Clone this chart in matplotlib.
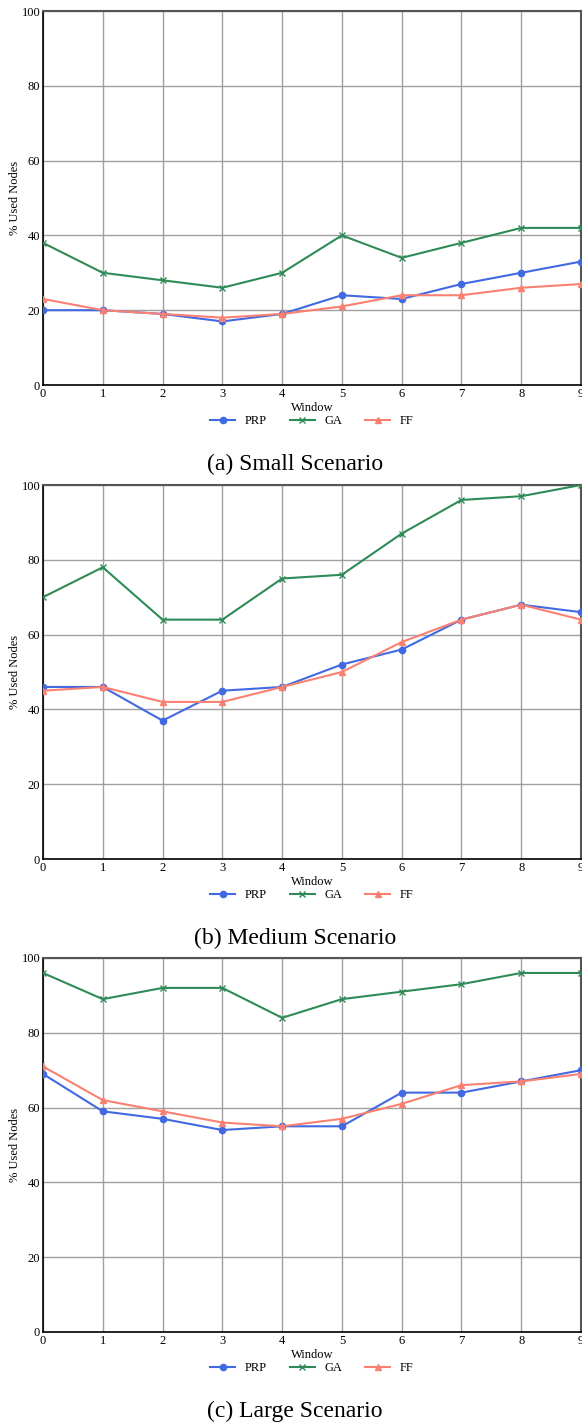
import matplotlib
matplotlib.use('Agg')
import matplotlib.pyplot as plt
import numpy as np

plt.rcParams['font.family'] = ['Liberation Serif', 'DejaVu Serif']

windows = np.arange(10)

# % of used nodes per window, one list per algorithm and scenario
small_prp = [20, 20, 19, 17, 19, 24, 23, 27, 30, 33]
small_ga = [38, 30, 28, 26, 30, 40, 34, 38, 42, 42]
small_ff = [23, 20, 19, 18, 19, 21, 24, 24, 26, 27]

medium_prp = [46, 46, 37, 45, 46, 52, 56, 64, 68, 66]
medium_ga = [70, 78, 64, 64, 75, 76, 87, 96, 97, 100]
medium_ff = [45, 46, 42, 42, 46, 50, 58, 64, 68, 64]

large_prp = [69, 59, 57, 54, 55, 55, 64, 64, 67, 70]
large_ga = [96, 89, 92, 92, 84, 89, 91, 93, 96, 96]
large_ff = [71, 62, 59, 56, 55, 57, 61, 66, 67, 69]

captions = ['(a) Small Scenario', '(b) Medium Scenario', '(c) Large Scenario']
panels = [
    (small_prp, small_ga, small_ff),
    (medium_prp, medium_ga, medium_ff),
    (large_prp, large_ga, large_ff),
]

W, H = 582, 1423
fig = plt.figure(figsize=(W / 100, H / 100), dpi=100)

ax_left, ax_right = 43, 581
ax_tops = [11, 485, 958]
ax_h = 374

for k, (prp, ga, ff) in enumerate(panels):
    top = ax_tops[k]
    ax = fig.add_axes([ax_left / W, (H - top - ax_h) / H,
                       (ax_right - ax_left) / W, ax_h / H])

    ax.plot(windows, prp, color='#4169E1', marker='o', markersize=4.5,
            linewidth=1.5, label='PRP', zorder=3)
    ax.plot(windows, ga, color='#2E8B57', marker='x', markersize=4,
            markeredgewidth=1.0, linewidth=1.5, label='GA', zorder=3)
    ax.plot(windows, ff, color='#FA8072', marker='^', markersize=5,
            linewidth=1.5, label='FF', zorder=3)

    ax.set_xlim(0, 9)
    ax.set_ylim(0, 100)
    ax.set_xticks(windows)
    ax.set_yticks([0, 20, 40, 60, 80, 100])
    ax.tick_params(length=0, pad=2, labelsize=9)
    ax.grid(True, color='#a0a0a0', linewidth=1.0, zorder=0)
    ax.set_axisbelow(True)

    for side in ['left', 'bottom']:
        ax.spines[side].set_color('black')
        ax.spines[side].set_linewidth(1.2)
    ax.spines['top'].set_color('#555555')
    ax.spines['top'].set_linewidth(1.5)
    ax.spines['right'].set_color('#555555')
    ax.spines['right'].set_linewidth(1.5)

    ax.set_xlabel('Window', fontsize=9, labelpad=1.5)
    ax.set_ylabel('% Used Nodes', fontsize=9, labelpad=0.5)

    leg_y = top + ax_h + 36
    ax.legend(loc='center', bbox_to_anchor=(312 / W, 1 - leg_y / H),
              bbox_transform=fig.transFigure, ncol=3, frameon=False,
              fontsize=9, handlelength=2.0, handletextpad=0.8,
              columnspacing=1.8)

    cap_y = top + ax_h + 79
    fig.text(295 / W, 1 - cap_y / H, captions[k], ha='center', va='center',
             fontsize=17)

fig.savefig('out.png', dpi=100, facecolor='white')
